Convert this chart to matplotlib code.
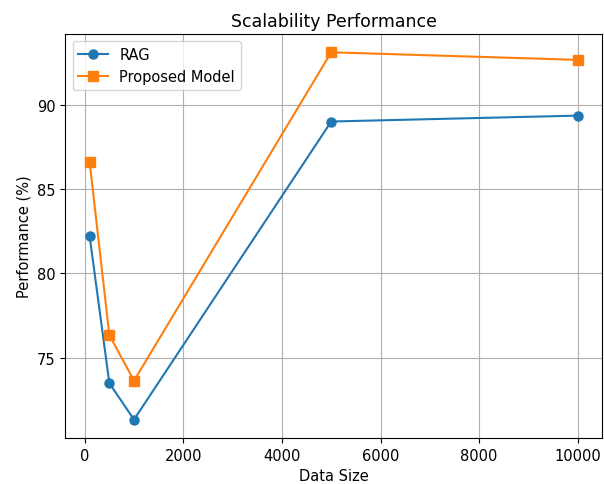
import matplotlib
matplotlib.use('Agg')
import matplotlib.pyplot as plt

# 数据
data_sizes = [100, 500, 1000, 5000, 10000]
rag_perf = [82.2, 73.5, 71.35, 89.0, 89.35]
proposed_perf = [86.6, 76.35, 73.65, 93.1, 92.65]

plt.rcParams['font.size'] = 10.5

fig, ax = plt.subplots(figsize=(6.04, 4.85), dpi=100)
fig.subplots_adjust(left=0.108, right=0.997, top=0.928, bottom=0.095)

ax.plot(data_sizes, rag_perf, marker='o', label='RAG', markersize=6.5)
ax.plot(data_sizes, proposed_perf, marker='s', label='Proposed Model', markersize=6.5)

ax.set_title('Scalability Performance', fontsize=12.5)
ax.set_xlabel('Data Size')
ax.set_ylabel('Performance (%)')
ax.legend()
ax.grid(True)

fig.savefig('out.png', dpi=100)
